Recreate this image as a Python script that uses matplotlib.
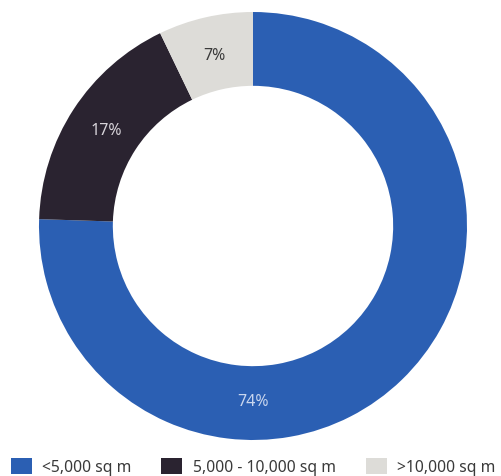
import numpy as np
import matplotlib.pyplot as plt

labels = ['<5,000 sq m', '5,000 - 10,000 sq m', '>10,000 sq m']
values = [74, 17, 7]
pct_labels = ['74%', '17%', '7%']
colors = ['#2b5fb3', '#2a2330', '#dddcd8']
text_colors = ['#c9d6ee', '#d8d4da', '#3a3a3a']

plt.rcParams['font.family'] = ['Noto Sans', 'DejaVu Sans']

fig = plt.figure(figsize=(5.01, 4.77), dpi=100)
ax = fig.add_axes([39 / 501, 36 / 477, 428 / 501, 428 / 477])

wedges, _ = ax.pie(
    values, colors=colors, startangle=90, counterclock=False,
    radius=1, wedgeprops=dict(width=0.345, edgecolor='none'))

# label positions: middle of the ring, blue label sits at the bottom
for w, txt, c in zip(wedges, pct_labels, text_colors):
    ang = (w.theta1 + w.theta2) / 2
    if txt == '74%':
        ang = -90
    r = 0.82
    ax.text(r * np.cos(np.radians(ang)), r * np.sin(np.radians(ang)), txt,
            ha='center', va='center', color=c, fontsize=11.5)

ax.set_xlim(-1, 1)
ax.set_ylim(-1, 1)
ax.set_aspect('equal')
ax.axis('off')

fig.legend(wedges, labels, loc='lower center', bbox_to_anchor=(0.505, -0.028),
           ncol=3, frameon=False, fontsize=11.3, handlelength=1.35,
           handleheight=1.2, columnspacing=1.9, handletextpad=0.65,
           labelcolor='#3a3a3a')

fig.savefig('out.png', dpi=100)
